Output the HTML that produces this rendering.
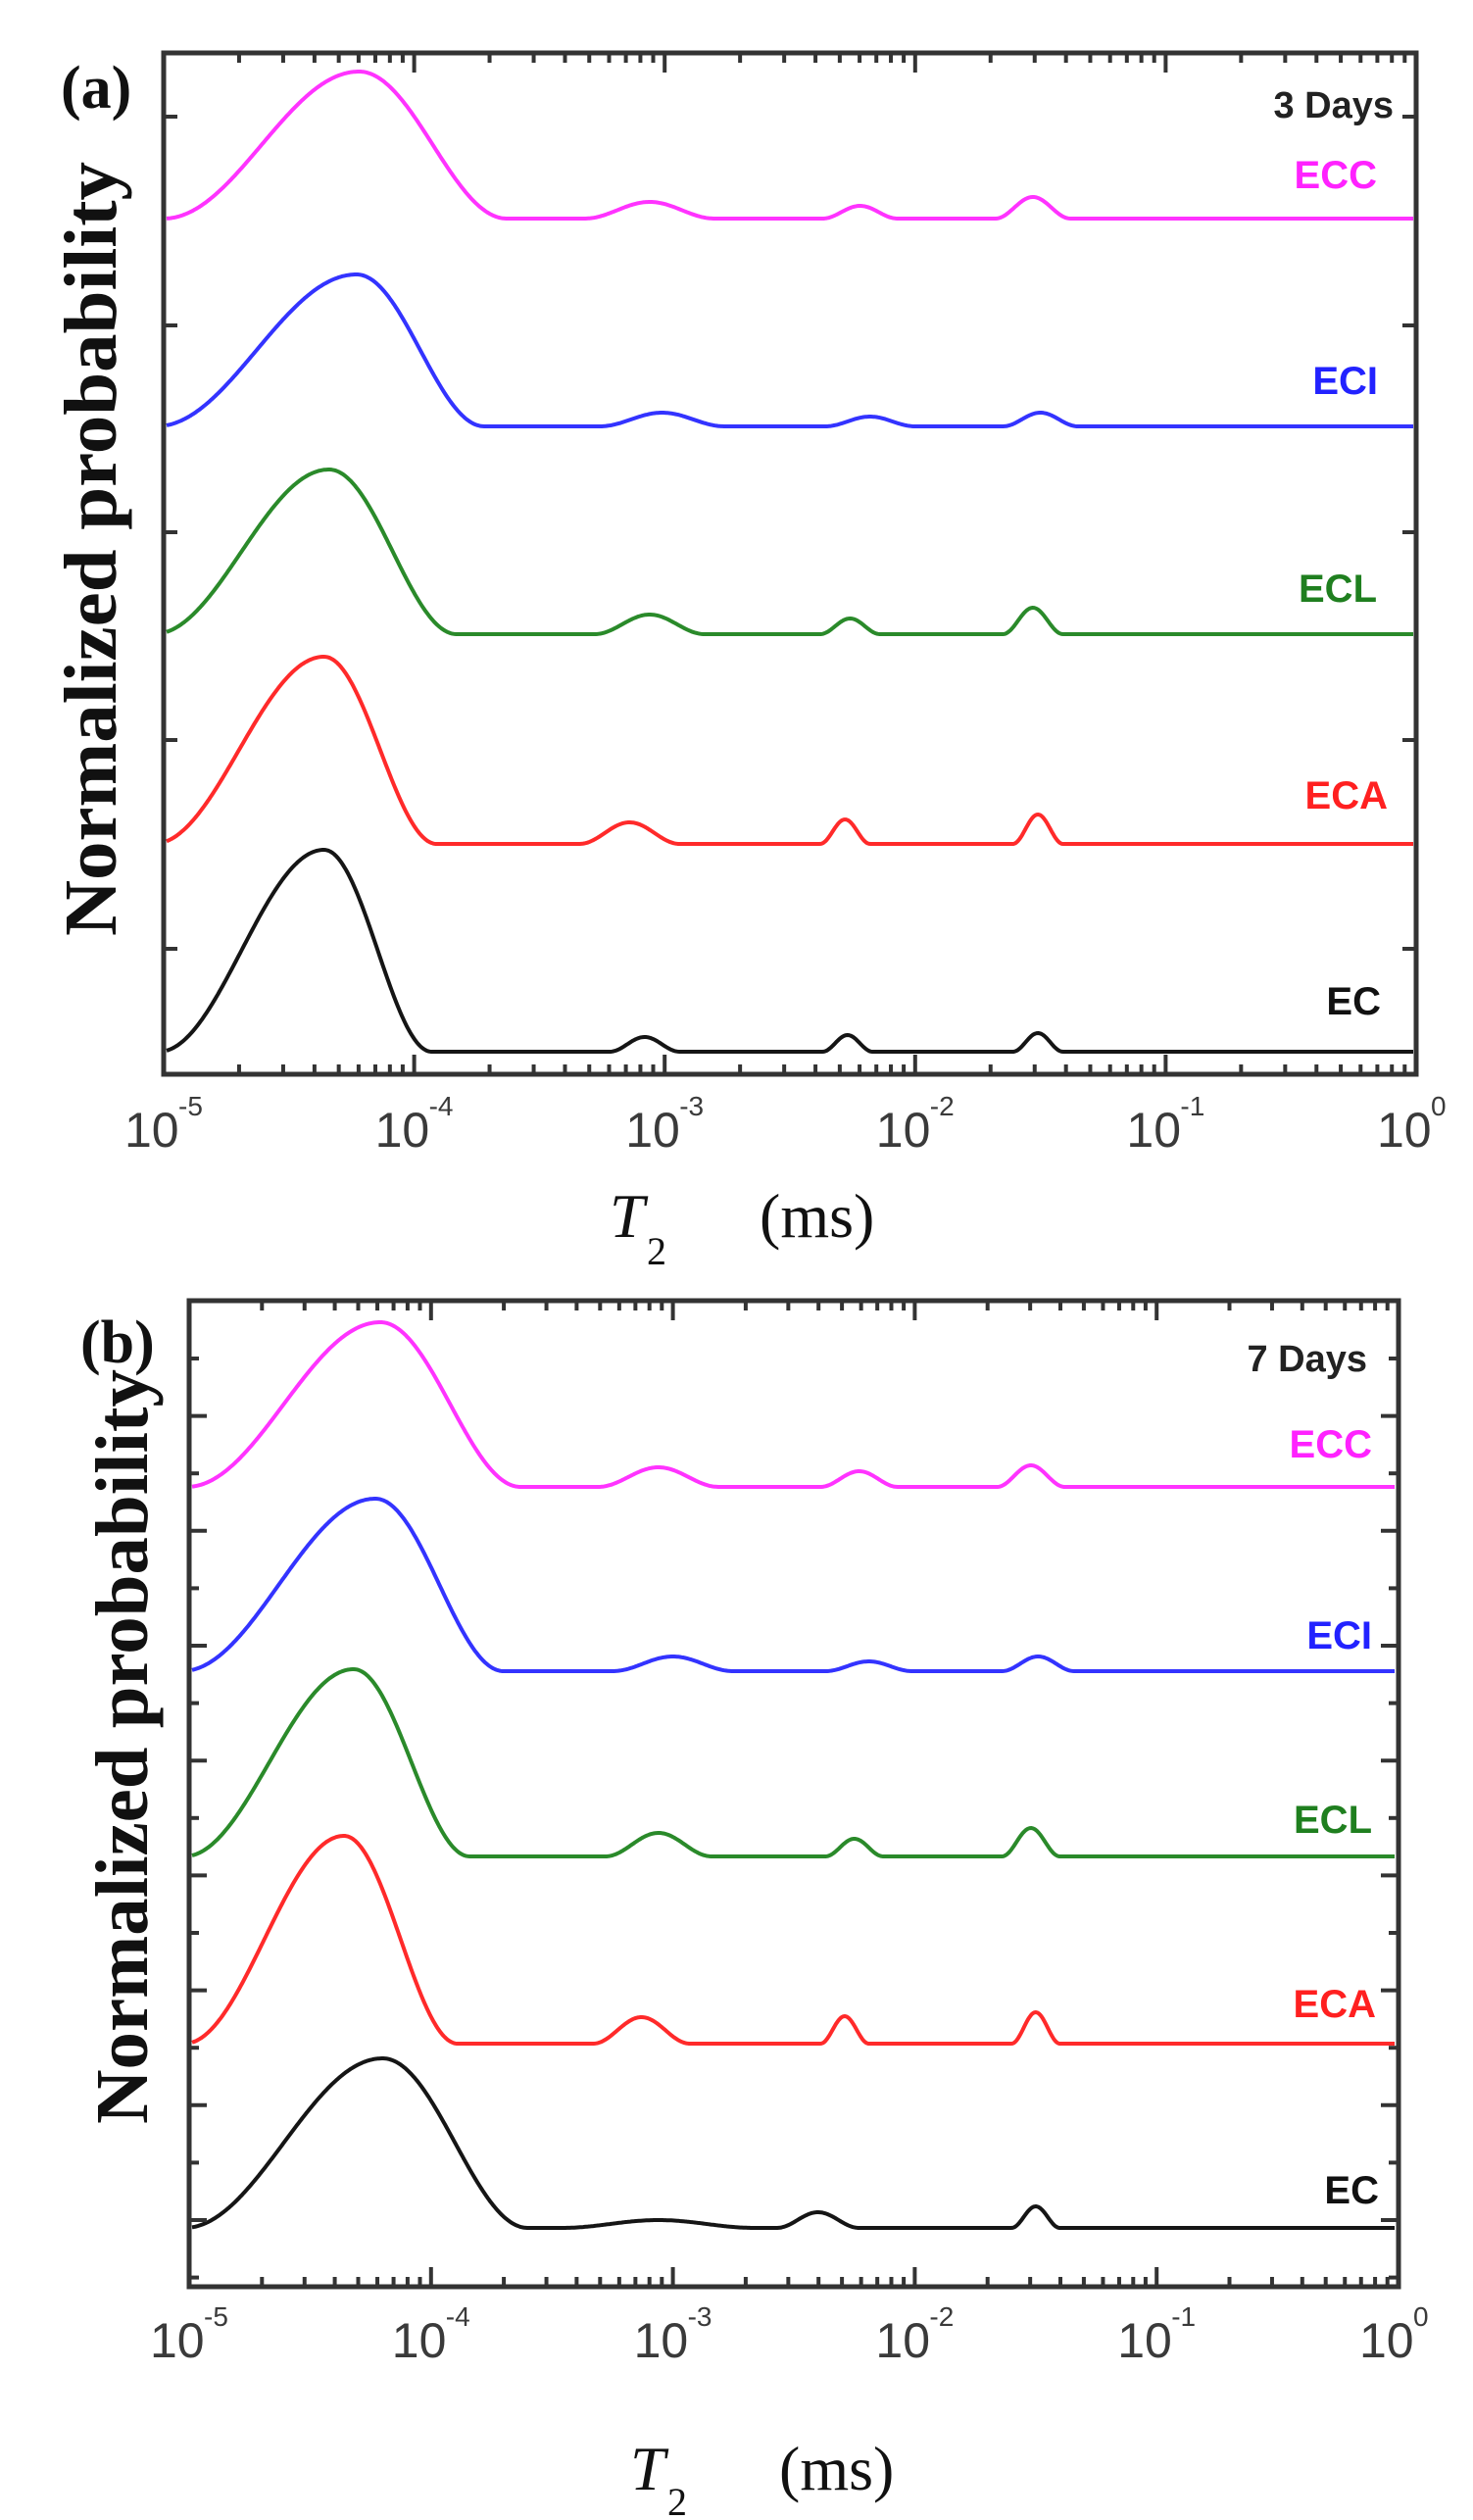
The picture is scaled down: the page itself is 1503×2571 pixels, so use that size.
<!DOCTYPE html>
<html><head><meta charset="utf-8">
<style>
html,body{margin:0;padding:0;background:#fff;}
svg{display:block;}
.tl{font-family:"Liberation Sans",sans-serif;fill:#3a3a3a;}
.lab{font-family:"Liberation Sans",sans-serif;font-weight:bold;}
.ser{font-family:"Liberation Serif",serif;}
</style></head>
<body>
<svg id="s" xmlns="http://www.w3.org/2000/svg" width="1503" height="2571" viewBox="0 0 1503 2571">
<text class="ser" x="62" y="110" font-size="62" font-weight="bold" fill="#111">(a)</text>
<text class="ser" transform="translate(118,560) rotate(-90)" text-anchor="middle" font-size="76" font-weight="bold" fill="#111" textLength="790" lengthAdjust="spacingAndGlyphs">Normalized probability</text>
<text class="lab" x="1422" y="120" text-anchor="end" font-size="38" fill="#222">3 Days</text>
<text class="lab" x="1405" y="192" text-anchor="end" font-size="40" fill="#ff22ff">ECC</text>
<text class="lab" x="1406" y="402" text-anchor="end" font-size="40" fill="#2222ff">ECI</text>
<text class="lab" x="1405" y="614" text-anchor="end" font-size="40" fill="#1f7f1f">ECL</text>
<text class="lab" x="1416" y="825" text-anchor="end" font-size="40" fill="#ff2020">ECA</text>
<text class="lab" x="1409" y="1035" text-anchor="end" font-size="40" fill="#111">EC</text>
<text class="ser" x="622" y="1262" font-size="64" font-style="italic" fill="#111">T</text>
<text class="ser" x="660" y="1290" font-size="40" fill="#111">2</text>
<text class="ser" x="775" y="1262" font-size="64" fill="#111">(ms)</text>
<text class="ser" x="82" y="1390" font-size="62" font-weight="bold" fill="#111">(b)</text>
<text class="ser" transform="translate(150,1782) rotate(-90)" text-anchor="middle" font-size="76" font-weight="bold" fill="#111" textLength="770" lengthAdjust="spacingAndGlyphs">Normalized probability</text>
<text class="lab" x="1395" y="1399" text-anchor="end" font-size="38" fill="#222">7 Days</text>
<text class="lab" x="1400" y="1487" text-anchor="end" font-size="40" fill="#ff22ff">ECC</text>
<text class="lab" x="1400" y="1682" text-anchor="end" font-size="40" fill="#2222ff">ECI</text>
<text class="lab" x="1400" y="1870" text-anchor="end" font-size="40" fill="#1f7f1f">ECL</text>
<text class="lab" x="1404" y="2058" text-anchor="end" font-size="40" fill="#ff2020">ECA</text>
<text class="lab" x="1407" y="2248" text-anchor="end" font-size="40" fill="#111">EC</text>
<text class="ser" x="643" y="2540" font-size="64" font-style="italic" fill="#111">T</text>
<text class="ser" x="681" y="2566" font-size="40" fill="#111">2</text>
<text class="ser" x="795" y="2540" font-size="64" fill="#111">(ms)</text>
<g id="g"></g>
</svg>
<script>
(function(){
var NS="http://www.w3.org/2000/svg",g=document.getElementById('g');
function el(t,a,txt){var e=document.createElementNS(NS,t);for(var k in a)e.setAttribute(k,a[k]);if(txt!=null)e.textContent=txt;g.appendChild(e);return e;}
function bump(x,c,h,l,r){var t=(x-c)/(x<c?l:r);if(Math.abs(t)>=1)return 0;var v=Math.cos(Math.PI*t/2);return h*v*v;}
function panel(P){
  var D=(P.R-P.L)/5;
  var cols={ECC:"#ff33ff",ECI:"#3333ff",ECL:"#2a8a2a",ECA:"#ff2a2a",EC:"#151515"};
  P.curves.forEach(function(c){
    var d="";
    for(var px=P.L+3;px<=P.R-3;px+=1.5){
      var lx=-5+(px-P.L)/D;
      var y=c.b-bump(lx,c.m[0],c.m[1],c.m[2],c.m[3]);
      c.s.forEach(function(s){y-=bump(lx,s[0],s[1],s[2],s[2]);});
      d+=(d?"L":"M")+px.toFixed(1)+","+y.toFixed(1);
    }
    el('path',{d:d,fill:"none",stroke:cols[c.n],"stroke-width":4,"stroke-linejoin":"round"});
  });
  el('rect',{x:P.L,y:P.T,width:P.R-P.L,height:P.B-P.T,fill:"none",stroke:"#333","stroke-width":5});
  for(var dd=0;dd<5;dd++){
    for(var m=1;m<=9;m++){
      if(m==1&&dd==0)continue;
      var x=P.L+D*(dd+Math.log10(m));
      var len=(m==1)?20:10;
      el('line',{x1:x,y1:P.B,x2:x,y2:P.B-len,stroke:"#333","stroke-width":4});
      el('line',{x1:x,y1:P.T,x2:x,y2:P.T+len,stroke:"#333","stroke-width":4});
    }
  }
  for(var i=0;i<=5;i++){
    var x=P.L+D*i;
    el('text',{x:x-40,y:P.LY,"font-size":50,"class":"tl"},"10");
    el('text',{x:x+15,y:P.LY-32,"font-size":28,"class":"tl"},(i==5?"0":"-"+(5-i)));
  }
  P.yt.forEach(function(t){
    el('line',{x1:P.L,y1:t[0],x2:P.L+t[1],y2:t[0],stroke:"#333","stroke-width":4});
    el('line',{x1:P.R,y1:t[0],x2:P.R-t[1],y2:t[0],stroke:"#333","stroke-width":4});
  });
}
var yta=[];[119,332,543,755,968].forEach(function(y){yta.push([y,14]);});
panel({L:167,R:1445,T:54,B:1096,LY:1170,yt:yta,curves:[
 {n:"ECC",b:223,m:[-4.22,150,0.78,0.59],s:[[-3.06,17,0.26],[-2.22,13,0.15],[-1.53,22,0.15]]},
 {n:"ECI",b:435,m:[-4.23,155,0.8,0.51],s:[[-3.01,14,0.25],[-2.18,10,0.18],[-1.5,14,0.15]]},
 {n:"ECL",b:647,m:[-4.34,168,0.7,0.51],s:[[-3.06,20,0.22],[-2.26,16,0.12],[-1.53,27,0.12]]},
 {n:"ECA",b:861,m:[-4.36,191,0.68,0.45],s:[[-3.14,22,0.2],[-2.28,25,0.1],[-1.51,30,0.1]]},
 {n:"EC",b:1073,m:[-4.36,206,0.66,0.43],s:[[-3.08,15,0.14],[-2.27,17,0.1],[-1.51,19,0.1]]}
]});
var ytb=[];for(var k=0;k<17;k++){var y=1386+k*58.6;if(y<2325)ytb.push([y,(k%2==1)?18:10]);}
panel({L:193,R:1427,T:1327,B:2333,LY:2405,yt:ytb,curves:[
 {n:"ECC",b:1517,m:[-4.21,168,0.8,0.58],s:[[-3.06,20,0.25],[-2.23,16,0.16],[-1.52,22,0.14]]},
 {n:"ECI",b:1705,m:[-4.23,176,0.8,0.53],s:[[-3.0,15,0.25],[-2.19,10,0.18],[-1.49,15,0.15]]},
 {n:"ECL",b:1894,m:[-4.32,191,0.7,0.48],s:[[-3.06,24,0.22],[-2.25,18,0.12],[-1.52,29,0.12]]},
 {n:"ECA",b:2085,m:[-4.36,212,0.66,0.47],s:[[-3.13,27,0.2],[-2.29,28,0.1],[-1.5,32,0.1]]},
 {n:"EC",b:2273,m:[-4.2,173,0.82,0.6],s:[[-3.06,8,0.4],[-2.4,16,0.17],[-1.5,22,0.1]]}
]});
})();
</script>
</body></html>
